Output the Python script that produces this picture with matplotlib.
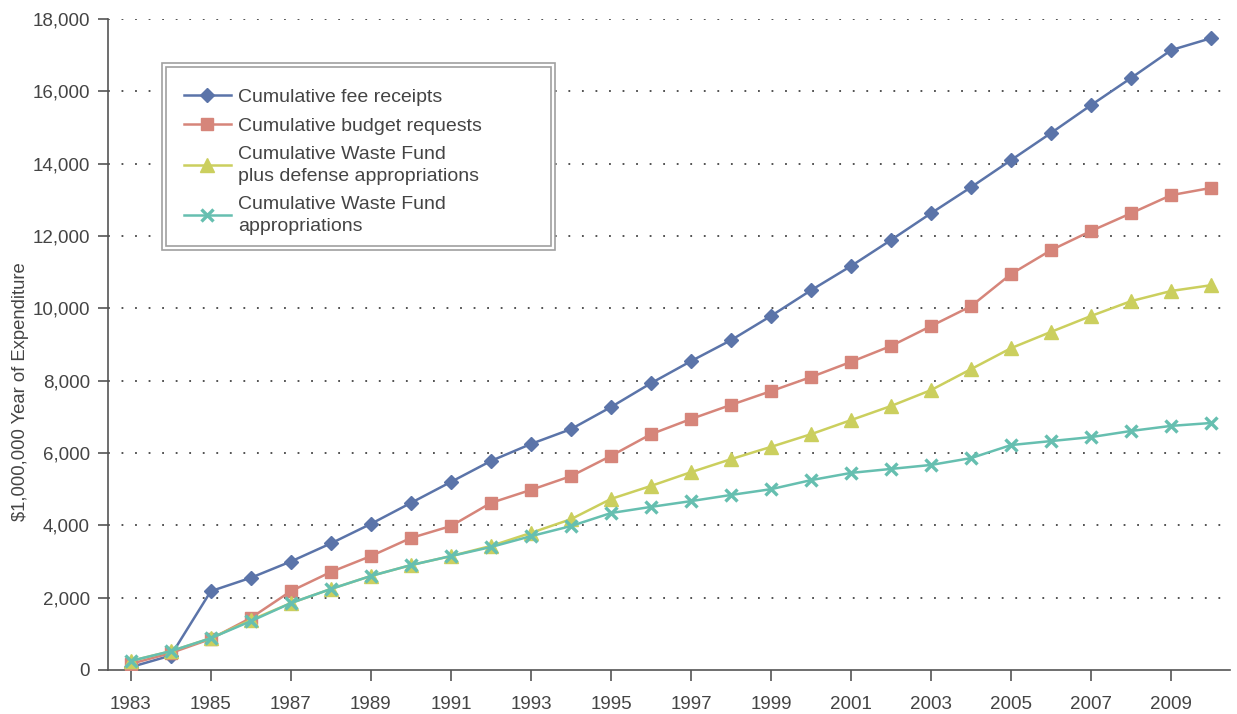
import matplotlib
matplotlib.use("Agg")
import matplotlib.pyplot as plt
from matplotlib.patches import Rectangle
from matplotlib.ticker import FuncFormatter, MultipleLocator

plt.rcParams['font.family'] = ['Liberation Sans', 'DejaVu Sans']

years = list(range(1983, 2011))
fee_receipts = [80, 400, 2180, 2550, 3000, 3500, 4040, 4620, 5200, 5780, 6250, 6660,
                7270, 7930, 8540, 9120, 9790, 10500, 11170, 11890, 12630, 13350,
                14100, 14850, 15620, 16370, 17140, 17470]
budget_requests = [170, 470, 860, 1440, 2180, 2710, 3150, 3650, 3980, 4620, 4980, 5360,
                   5920, 6520, 6940, 7330, 7710, 8100, 8520, 8960, 9510, 10060,
                   10950, 11610, 12140, 12630, 13130, 13330]
waste_plus_defense = [250, 520, 880, 1380, 1850, 2240, 2600, 2900, 3150, 3430, 3790, 4170,
                      4730, 5090, 5470, 5830, 6170, 6520, 6910, 7300, 7740, 8320,
                      8900, 9350, 9790, 10200, 10480, 10640]
waste_fund = [250, 520, 880, 1350, 1850, 2240, 2600, 2900, 3150, 3400, 3700, 3980,
              4340, 4510, 4670, 4840, 5000, 5250, 5450, 5560, 5670, 5860,
              6220, 6330, 6440, 6610, 6750, 6830]
labels = ["Cumulative fee receipts", "Cumulative budget requests",
          "Cumulative Waste Fund\nplus defense appropriations",
          "Cumulative Waste Fund\nappropriations"]
ylabel = "$1,000,000 Year of Expenditure"

text_col = "#444444"
W, H = 1237, 714
fig = plt.figure(figsize=(W/100, H/100), dpi=100)
ax = fig.add_axes([108/W, 44/H, (1230-108)/W, (670-19)/H])

ax.plot(years, fee_receipts, color="#5B74A9", lw=1.8, marker="D", ms=7.5, label=labels[0], zorder=3)
ax.plot(years, budget_requests, color="#D6857A", lw=1.8, marker="s", ms=9, label=labels[1], zorder=4)
ax.plot(years, waste_plus_defense, color="#CBCF5E", lw=1.8, marker="^", ms=10, label=labels[2], zorder=5)
ax.plot(years, waste_fund, color="#66BFB0", lw=1.8, marker="x", ms=9, mew=2.4, label=labels[3], zorder=6)

ax.set_xlim(1982.43, 2010.47)
ax.set_ylim(0, 18000)
ax.set_xticks(list(range(1983, 2011, 2)))
ax.yaxis.set_major_locator(MultipleLocator(2000))
ax.yaxis.set_major_formatter(FuncFormatter(lambda v, p: f"{int(v):,}"))

for s in ["top", "right"]:
    ax.spines[s].set_visible(False)
for s in ["left", "bottom"]:
    ax.spines[s].set_color("#555555")
    ax.spines[s].set_linewidth(1.2)

ax.tick_params(axis="x", direction="out", length=8, width=1.2, color="#555555",
               labelsize=13.5, labelcolor=text_col, pad=11)
ax.tick_params(axis="y", direction="out", length=7, width=1.2, color="#555555",
               labelsize=13.5, labelcolor=text_col, pad=6)

for v in range(2000, 18001, 2000):
    ax.axhline(v, color="#444444", lw=1.3, ls=(0, (1, 6.5)), zorder=1)

ax.set_ylabel(ylabel, fontsize=13.3, color=text_col)
ax.yaxis.set_label_coords((29-108)/1122, (670-391.5)/651)

# legend with double border
ax.add_patch(Rectangle((162/W, 1-250/H), (555-162)/W, (250-63)/H,
                       transform=fig.transFigure, fill=True, facecolor="white",
                       edgecolor="#A0A0A0", lw=1.2, zorder=8, clip_on=False))
ax.add_patch(Rectangle((166/W, 1-246/H), (551-166)/W, (246-67)/H,
                       transform=fig.transFigure, fill=False,
                       edgecolor="#A0A0A0", lw=1.2, zorder=9, clip_on=False))
leg = ax.legend(loc="upper left", bbox_to_anchor=(166/W, 1-71/H),
                bbox_transform=fig.transFigure, frameon=False, fontsize=14,
                handlelength=2.45, handletextpad=0.35, labelspacing=0.58,
                labelcolor=text_col)
for t in leg.get_texts():
    t.set_linespacing(1.35)
leg.set_zorder(10)

fig.savefig("out.png", dpi=100)
